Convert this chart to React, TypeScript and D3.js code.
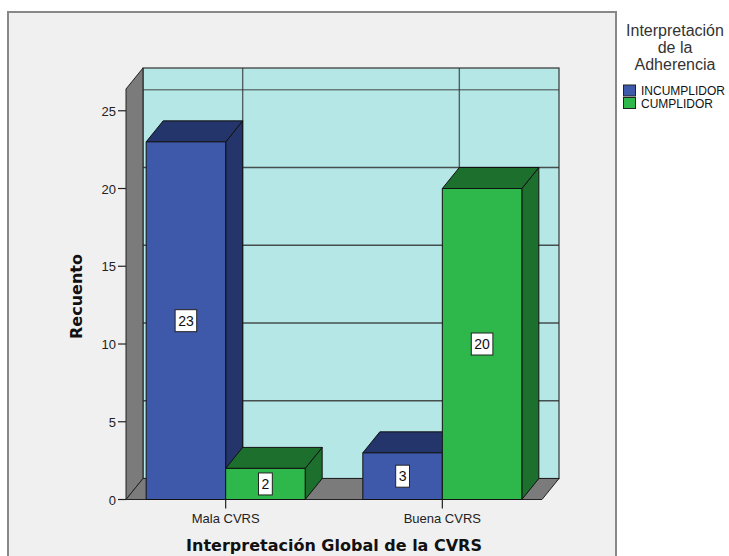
import React, { useEffect, useRef } from 'react';
import * as d3 from 'd3';

// chart values
const categories = ['Mala CVRS', 'Buena CVRS'];
const seriesNames = ['INCUMPLIDOR', 'CUMPLIDOR'];
const incumplidor = [23, 3];
const cumplidor = [2, 20];
const yTicks = [0, 5, 10, 15, 20, 25];
const legendTitle = ['Interpretación', 'de la', 'Adherencia'];

const colors = {
  INCUMPLIDOR: { front: '#3e58aa', dark: '#24356b' },
  CUMPLIDOR: { front: '#2eb84b', dark: '#1d6f2e' },
};

const App = () => {
  const ref = useRef<SVGSVGElement>(null);

  useEffect(() => {
    const svg = d3.select(ref.current);
    svg.selectAll('*').remove();

    const dx = 17; // depth offset
    const dy = -21;
    const left = 126;
    const right = 542;

    const x = d3.scalePoint().domain(categories).range([left, right]).padding(0.46);
    const inner = d3.scaleBand().domain(seriesNames).range([-79.5, 79.5]).padding(0);
    const y = d3.scaleLinear().domain([0, 26.4]).range([499.5, 89]);
    const y0 = y(0);
    const yTop = y(26.4);

    // outer frame
    svg.append('rect')
      .attr('x', 8).attr('y', 12).attr('width', 608).attr('height', 570)
      .attr('fill', '#f0f0f0').attr('stroke', '#888').attr('stroke-width', 2);

    // back wall
    svg.append('rect')
      .attr('x', left + dx).attr('y', yTop + dy)
      .attr('width', right - left).attr('height', y0 - yTop)
      .attr('fill', '#b5e7e7').attr('stroke', '#333').attr('stroke-width', 1.2);

    // back grid
    const grid = svg.append('g');
    grid.selectAll('line.h')
      .data(yTicks.filter(t => t > 0))
      .enter().append('line')
      .attr('x1', left + dx).attr('x2', right + dx)
      .attr('y1', d => y(d) + dy).attr('y2', d => y(d) + dy)
      .attr('stroke', '#333').attr('stroke-opacity', d => (d === 25 ? 0.6 : 0.85))
      .attr('stroke-width', 1.4);
    grid.selectAll('line.v')
      .data(categories)
      .enter().append('line')
      .attr('x1', d => x(d)! + dx).attr('x2', d => x(d)! + dx)
      .attr('y1', yTop + dy).attr('y2', y0 + dy)
      .attr('stroke', '#333').attr('stroke-opacity', 0.75).attr('stroke-width', 1.4);

    // left wall and floor
    svg.append('path')
      .attr('d', `M${left},${yTop}L${left + dx},${yTop + dy}L${left + dx},${y0 + dy}L${left},${y0}Z`)
      .attr('fill', '#7b7b7b').attr('stroke', '#222').attr('stroke-width', 1);
    svg.append('path')
      .attr('d', `M${left},${y0}L${right},${y0}L${right + dx},${y0 + dy}L${left + dx},${y0 + dy}Z`)
      .attr('fill', '#7b7b7b').attr('stroke', '#222').attr('stroke-width', 1);

    // bars, left to right
    const bars: { cat: string; s: string; v: number }[] = [];
    categories.forEach((c, i) => {
      bars.push({ cat: c, s: 'INCUMPLIDOR', v: incumplidor[i] });
      bars.push({ cat: c, s: 'CUMPLIDOR', v: cumplidor[i] });
    });

    const bg = svg.append('g').attr('stroke', '#111').attr('stroke-width', 1).attr('stroke-linejoin', 'round');
    bars.forEach(b => {
      const x0 = x(b.cat)! + inner(b.s)!;
      const x1 = x0 + inner.bandwidth();
      const yv = y(b.v);
      const col = colors[b.s as keyof typeof colors];
      bg.append('path')
        .attr('d', `M${x1},${yv}L${x1 + dx},${yv + dy}L${x1 + dx},${y0 + dy}L${x1},${y0}Z`)
        .attr('fill', col.dark);
      bg.append('path')
        .attr('d', `M${x0},${yv}L${x0 + dx},${yv + dy}L${x1 + dx},${yv + dy}L${x1},${yv}Z`)
        .attr('fill', col.dark);
      bg.append('rect')
        .attr('x', x0).attr('y', yv).attr('width', x1 - x0).attr('height', y0 - yv)
        .attr('fill', col.front);
    });

    // value labels
    bars.forEach(b => {
      const cx = x(b.cat)! + inner(b.s)! + inner.bandwidth() / 2;
      const cy = y(b.v / 2);
      const label = String(b.v);
      const w = label.length * 7.8 + 6;
      svg.append('rect')
        .attr('x', cx - w / 2).attr('y', cy - 11).attr('width', w).attr('height', 22)
        .attr('fill', '#fff').attr('stroke', '#222').attr('stroke-width', 1);
      svg.append('text')
        .attr('x', cx).attr('y', cy + 5)
        .attr('text-anchor', 'middle')
        .attr('font-family', 'Liberation Sans, Arial, sans-serif')
        .attr('font-size', 14).attr('fill', '#111')
        .text(label);
    });

    // y axis ticks
    const ya = svg.append('g');
    yTicks.forEach(t => {
      ya.append('line')
        .attr('x1', left - 8).attr('x2', left).attr('y1', y(t)).attr('y2', y(t))
        .attr('stroke', '#222').attr('stroke-width', 1.2);
      ya.append('text')
        .attr('x', left - 10).attr('y', y(t) + 5)
        .attr('text-anchor', 'end')
        .attr('font-family', 'Liberation Sans, Arial, sans-serif')
        .attr('font-size', 13).attr('fill', '#222')
        .text(t);
    });

    // x axis ticks
    categories.forEach(c => {
      svg.append('line')
        .attr('x1', x(c)!).attr('x2', x(c)!).attr('y1', y0).attr('y2', y0 + 9)
        .attr('stroke', '#222').attr('stroke-width', 1.2);
      svg.append('text')
        .attr('x', x(c)!).attr('y', 523)
        .attr('text-anchor', 'middle')
        .attr('font-family', 'Liberation Sans, Arial, sans-serif')
        .attr('font-size', 13).attr('fill', '#222')
        .text(c);
    });

    // axis titles
    svg.append('text')
      .attr('transform', 'translate(82,296.5) rotate(-90)')
      .attr('text-anchor', 'middle')
      .attr('font-family', 'DejaVu Sans, sans-serif')
      .attr('font-weight', 'bold').attr('font-size', 16).attr('fill', '#111')
      .text('Recuento');
    svg.append('text')
      .attr('x', 334).attr('y', 551)
      .attr('text-anchor', 'middle')
      .attr('font-family', 'DejaVu Sans, sans-serif')
      .attr('font-weight', 'bold').attr('font-size', 16).attr('fill', '#111')
      .text('Interpretación Global de la CVRS');

    // legend
    const lg = svg.append('g');
    legendTitle.forEach((line, i) => {
      lg.append('text')
        .attr('x', 675).attr('y', 36 + i * 17)
        .attr('text-anchor', 'middle')
        .attr('font-family', 'Liberation Sans, Arial, sans-serif')
        .attr('font-size', 16).attr('fill', '#333')
        .text(line);
    });
    seriesNames.forEach((s, i) => {
      const col = colors[s as keyof typeof colors];
      lg.append('rect')
        .attr('x', 623.5).attr('y', 85 + i * 12.5).attr('width', 12).attr('height', 11)
        .attr('fill', col.front).attr('stroke', '#222').attr('stroke-width', 1);
      lg.append('text')
        .attr('x', 641).attr('y', 95 + i * 12.5)
        .attr('font-family', 'Liberation Sans, Arial, sans-serif')
        .attr('font-size', 12).attr('fill', '#111')
        .text(s);
    });
  }, []);

  return (
    <svg
      ref={ref}
      width={729}
      height={556}
      style={{ position: 'absolute', left: 0, top: 0, background: '#fff' }}
    />
  );
};

export default App;
